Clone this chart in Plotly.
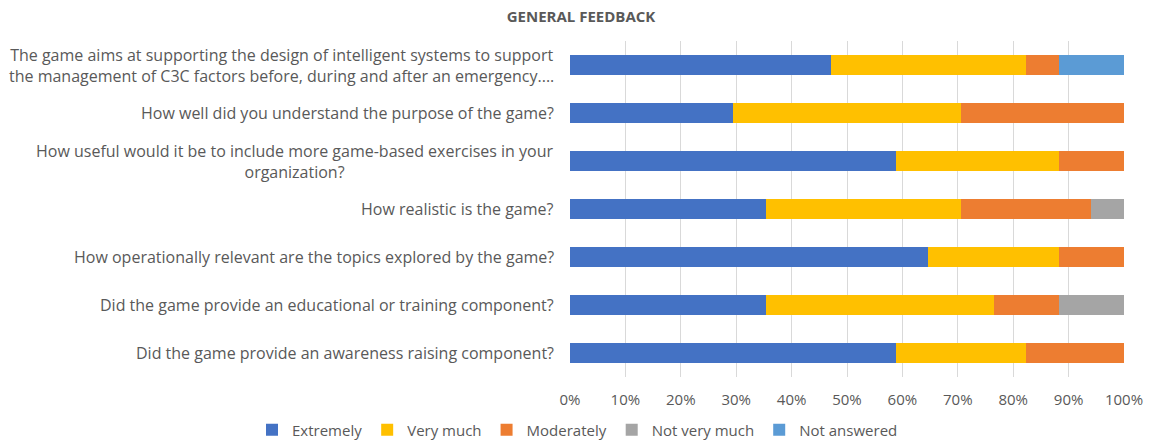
import plotly.graph_objects as go

questions = [
    "The game aims at supporting the design of intelligent systems to support<br>the management of C3C factors before, during and after an emergency....",
    "How well did you understand the purpose of the game?",
    "How useful would it be to include more game-based exercises in your<br>organization?",
    "How realistic is the game?",
    "How operationally relevant are the topics explored by the game?",
    "Did the game provide an educational or training component?",
    "Did the game provide an awareness raising component?",
]

# respondent counts per answer (17 respondents), normalised to percent by plotly
extremely = [8, 5, 10, 6, 11, 6, 10]
very_much = [6, 7, 5, 6, 4, 7, 4]
moderately = [1, 5, 2, 4, 2, 2, 3]
not_very_much = [0, 0, 0, 1, 0, 2, 0]
not_answered = [2, 0, 0, 0, 0, 0, 0]

series = [
    ("Extremely", extremely, "#4472C4"),
    ("Very much", very_much, "#FFC000"),
    ("Moderately", moderately, "#ED7D31"),
    ("Not very much", not_very_much, "#A5A5A5"),
    ("Not answered", not_answered, "#5B9BD5"),
]

FONT = "Open Sans, sans-serif"
TXT = "#595959"

fig = go.Figure()
for name, vals, color in series:
    fig.add_trace(go.Bar(
        y=list(range(len(questions))), x=vals, name=name, orientation="h",
        marker=dict(color=color, line=dict(width=0)), width=0.4,
    ))

for i, q in enumerate(questions):
    fig.add_annotation(
        x=0, xref="paper", y=i, yref="y", text=q, showarrow=False,
        xanchor="right", yanchor="middle", align="center", xshift=-14,
        font=dict(family=FONT, size=16, color=TXT),
    )

PL, PR, PT, PB = 570, 26, 41, 64
W, H = 1150, 441
pw, ph = W - PL - PR, H - PT - PB

fig.update_layout(
    width=W, height=H, template="none",
    barmode="stack", barnorm="percent",
    paper_bgcolor="white", plot_bgcolor="white",
    margin=dict(l=PL, r=PR, t=PT, b=PB, autoexpand=False),
    title=dict(text="<b>GENERAL FEEDBACK</b>", x=581 / W, xref="container", xanchor="center",
               y=1 - 17 / H, yref="container", yanchor="middle",
               font=dict(family=FONT, size=15, color=TXT)),
    showlegend=True,
    legend=dict(orientation="h", x=(252 - PL) / pw, xref="paper", xanchor="left",
                y=-(430 - (H - PB)) / ph, yref="paper", yanchor="middle",
                font=dict(family=FONT, size=15, color=TXT),
                traceorder="normal", itemwidth=30, bgcolor="rgba(0,0,0,0)"),
    bargap=0.6,
)
fig.update_xaxes(
    range=[0, 100], tickvals=[0, 10, 20, 30, 40, 50, 60, 70, 80, 90, 100],
    ticktext=["0%", "10%", "20%", "30%", "40%", "50%", "60%", "70%", "80%", "90%", "100%"],
    showgrid=True, gridcolor="#D9D9D9", gridwidth=1, zeroline=False,
    showline=False, ticks="", ticklabelstandoff=12, automargin=False,
    tickfont=dict(family=FONT, size=15, color=TXT), fixedrange=True,
)
fig.update_yaxes(
    range=[len(questions) - 0.5, -0.5], showticklabels=False, showgrid=False,
    zeroline=False, showline=False, ticks="", automargin=False,
)

fig.write_html("out.html")
